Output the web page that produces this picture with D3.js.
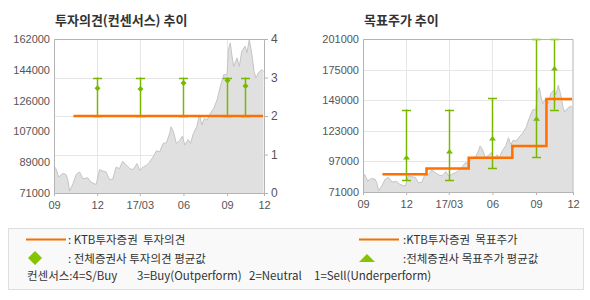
<!DOCTYPE html>
<html>
<head>
<meta charset="utf-8">
<script src="https://cdn.jsdelivr.net/npm/d3@7"></script>
<style>
body { margin: 0; background: #fff; }
text { font-family: "Liberation Sans", Arial, sans-serif; }
.kr { font-family: "Noto Sans CJK KR", sans-serif; }
</style>
</head>
<body>
<div id="chart"></div>
<script>
// ----- DATA -----------------------------------------------------------
const priceDates = [
    "2016-09-01","2016-09-05","2016-09-11","2016-09-19","2016-09-26","2016-09-30",
    "2016-10-04","2016-10-11","2016-10-18","2016-10-25","2016-11-01","2016-11-11",
    "2016-11-18","2016-11-29","2016-12-06","2016-12-13","2016-12-20","2016-12-27",
    "2017-01-03","2017-01-10","2017-01-17","2017-01-24","2017-02-01","2017-02-08",
    "2017-02-15","2017-02-23","2017-03-01","2017-03-08","2017-03-15","2017-03-22",
    "2017-03-29","2017-04-05","2017-04-12","2017-04-19","2017-04-26","2017-05-03",
    "2017-05-06","2017-05-11","2017-05-17","2017-05-24","2017-05-30","2017-06-04",
    "2017-06-11","2017-06-16","2017-06-22","2017-06-29","2017-07-05","2017-07-10",
    "2017-07-15","2017-07-21","2017-07-28","2017-08-04","2017-08-11","2017-08-18",
    "2017-08-25","2017-09-01","2017-09-04","2017-09-08","2017-09-11","2017-09-15",
    "2017-09-22","2017-09-27","2017-10-02","2017-10-09","2017-10-13","2017-10-18",
    "2017-10-23","2017-10-28","2017-11-01","2017-11-06","2017-11-13","2017-11-17"
];
const priceValues = [
    86800, 85400, 80400, 82500, 82000, 79000,
    72100, 76500, 82000, 83400, 79400, 80000,
    77400, 76000, 84800, 84000, 83400, 78900,
    79200, 86300, 85400, 89700, 87400, 85400,
    84800, 88400, 84400, 86300, 87400, 89300,
    92300, 95900, 95300, 100300, 100600, 106200,
    110100, 107200, 100300, 102200, 104600, 99300,
    102600, 100300, 106200, 110100, 117100, 111100,
    115100, 114100, 118100, 121100, 126000, 134000,
    140900, 140900, 155800, 159700, 152800, 145800,
    150800, 145800, 154700, 157700, 153800, 161700,
    153800, 142800, 138900, 141900, 143900, 142800
];

const axisStart = "2016-09-01";
const axisEnd = "2017-11-18";
const tickDates = ["2016-09-01","2016-12-01","2017-03-01","2017-06-01","2017-09-01","2017-11-18"];
const tickLabels = ["09","12","17/03","06","09","12"];

// consensus (all brokers) dates
const consensusDates = ["2016-12-01","2017-03-01","2017-06-01","2017-09-01","2017-10-09"];

// left chart : investment opinion
const opinionMax = [3, 3, 3, 3, 3];
const opinionMin = [2, 2, 2, 2, 2];
const opinionAvg = [2.72, 2.70, 2.86, 2.92, 2.78];
const ktbOpinionDates = ["2016-10-12","2017-11-16"];
const ktbOpinion = [2, 2];
const opinionTicks = [0, 1, 2, 3, 4];
const leftPriceTicks = [71000, 89200, 107400, 125600, 143800, 162000];

// right chart : target price
const targetMax = [141000, 141000, 150500, 201000, 201000];
const targetMin = [81000, 81000, 91400, 100700, 141000];
const targetAvg = [100400, 105500, 116500, 133300, 176000];
const ktbTargetDates = ["2016-10-12","2017-01-13","2017-04-12","2017-07-13","2017-09-23","2017-11-16"];
const ktbTarget = [86000, 91000, 100000, 110000, 150000, 150000];
const rightPriceTicks = [71000, 97000, 123000, 149000, 175000, 201000];

// ----- SETUP ----------------------------------------------------------
const ORANGE = "#ff7000";
const GREEN = "#78b800";
const parse = d3.timeParse("%Y-%m-%d");

const width = 590, height = 300;

const svg = d3.select("#chart").append("svg")
    .attr("width", width)
    .attr("height", height);

const prices = priceDates.map((d, i) => ({ date: parse(d), v: priceValues[i] }));

function drawPanel( opts )
{
    const innerWidth = opts.right - opts.left;
    const innerHeight = opts.bottom - opts.top;

    const g = svg.append("g")
        .attr("transform", "translate(" + opts.left + "," + opts.top + ")");

    const x = d3.scaleTime()
        .domain([parse(axisStart), parse(axisEnd)])
        .range([0, innerWidth]);

    const y = d3.scaleLinear()
        .domain([opts.priceTicks[0], opts.priceTicks[opts.priceTicks.length - 1]])
        .range([innerHeight, 0]);

    // vertical gridlines
    g.selectAll(".vgrid")
        .data(tickDates.slice(1, -1))
        .enter().append("line")
        .attr("x1", d => Math.round(x(parse(d))) + 0.5)
        .attr("x2", d => Math.round(x(parse(d))) + 0.5)
        .attr("y1", 0)
        .attr("y2", innerHeight)
        .attr("stroke", "#e6e6e6");

    // horizontal gridlines
    g.selectAll(".hgrid")
        .data(opts.gridValues)
        .enter().append("line")
        .attr("x1", 0)
        .attr("x2", innerWidth)
        .attr("y1", d => Math.round(opts.gridScale(d, innerHeight)) + 0.5)
        .attr("y2", d => Math.round(opts.gridScale(d, innerHeight)) + 0.5)
        .attr("stroke", "#e6e6e6");

    // price area
    g.append("path")
        .datum(prices)
        .attr("d", d3.area()
            .x(d => x(d.date))
            .y0(innerHeight)
            .y1(d => y(d.v)))
        .attr("fill", "#e0e0e0");

    g.append("path")
        .datum(prices)
        .attr("d", d3.line()
            .x(d => x(d.date))
            .y(d => y(d.v)))
        .attr("fill", "none")
        .attr("stroke", "#c4c4c4")
        .attr("stroke-width", 1);

    const vy = opts.valueScale(innerHeight);

    // consensus range bars
    const bars = consensusDates.map((d, i) => ({
        date: parse(d), max: opts.max[i], min: opts.min[i], avg: opts.avg[i]
    }));

    const bar = g.selectAll(".range")
        .data(bars)
        .enter().append("g");

    bar.append("line")
        .attr("x1", d => Math.round(x(d.date)) + 0.5)
        .attr("x2", d => Math.round(x(d.date)) + 0.5)
        .attr("y1", d => vy(d.max))
        .attr("y2", d => vy(d.min))
        .attr("stroke", GREEN)
        .attr("stroke-width", 1.5);

    ["max", "min"].forEach(k => {
        bar.append("line")
            .attr("x1", d => Math.round(x(d.date)) - 4)
            .attr("x2", d => Math.round(x(d.date)) + 5)
            .attr("y1", d => Math.round(vy(d[k])) + 0.5)
            .attr("y2", d => Math.round(vy(d[k])) + 0.5)
            .attr("stroke", GREEN)
            .attr("stroke-width", 1.5);
    });

    // KTB line
    const ktb = opts.ktbDates.map((d, i) => ({ date: parse(d), v: opts.ktb[i] }));
    g.append("path")
        .datum(ktb)
        .attr("d", d3.line()
            .curve(d3.curveStepAfter)
            .x(d => x(d.date))
            .y(d => vy(d.v)))
        .attr("fill", "none")
        .attr("stroke", ORANGE)
        .attr("stroke-width", 2.5);

    // average markers
    bar.append("path")
        .attr("transform", d => "translate(" + (Math.round(x(d.date)) + 0.5) + "," + vy(d.avg) + ")")
        .attr("d", opts.marker)
        .attr("fill", GREEN);

    // frame
    g.append("path")
        .attr("d", "M0.5," + innerHeight + "V0.5H" + innerWidth + (opts.rightAxis ? "" : "V" + innerHeight))
        .attr("fill", "none")
        .attr("stroke", "#b4b4b4");

    // x axis
    const xAxis = g.append("g")
        .attr("transform", "translate(0," + innerHeight + ")")
        .call(d3.axisBottom(x)
            .tickValues(tickDates.map(parse))
            .tickFormat((d, i) => tickLabels[i])
            .tickSize(3)
            .tickSizeOuter(0));
    xAxis.select(".domain").attr("stroke", "#b4b4b4");
    xAxis.selectAll(".tick line").attr("stroke", "#b4b4b4");
    xAxis.selectAll("text")
        .attr("font-family", "Liberation Sans, Arial, sans-serif")
        .attr("font-size", 11)
        .attr("fill", "#555")
        .attr("dy", "0.95em");

    // left price axis
    const yAxis = g.append("g")
        .call(d3.axisLeft(y)
            .tickValues(opts.priceTicks)
            .tickFormat(d => Math.round(d / 1000) * 1000)
            .tickSize(0)
            .tickPadding(4));
    yAxis.select(".domain").attr("stroke", "#b4b4b4");
    yAxis.selectAll("text")
        .attr("font-family", "Liberation Sans, Arial, sans-serif")
        .attr("font-size", 11)
        .attr("fill", "#555");

    // right opinion axis
    if( opts.rightAxis )
    {
        const r = g.append("g")
            .attr("transform", "translate(" + innerWidth + ",0)")
            .call(d3.axisRight(vy)
                .tickValues(opinionTicks)
                .tickFormat(d3.format("d"))
                .tickSize(4)
                .tickSizeOuter(0)
                .tickPadding(3));
        r.select(".domain").attr("stroke", "#b4b4b4");
        r.selectAll(".tick line").attr("stroke", "#b4b4b4");
        r.selectAll("text")
            .attr("font-family", "Liberation Sans, Arial, sans-serif")
            .attr("font-size", 12)
            .attr("fill", "#555");
    }

    // title
    svg.append("text")
        .attr("class", "kr")
        .attr("x", opts.left + 1)
        .attr("y", 25)
        .attr("font-size", 13)
        .attr("font-weight", "bold")
        .attr("fill", "#333")
        .text(opts.title);
}

const diamond = "M0,-3L3,0L0,3L-3,0Z";
const triangle = "M0,-2.5L3.5,2L-3.5,2Z";

drawPanel({
    left: 54, right: 264, top: 39, bottom: 193,
    title: "투자의견(컨센서스) 추이",
    priceTicks: leftPriceTicks,
    gridValues: [1, 2, 3],
    gridScale: (d, h) => h - d / 4 * h,
    valueScale: h => d3.scaleLinear().domain([0, 4]).range([h, 0]),
    max: opinionMax, min: opinionMin, avg: opinionAvg,
    ktbDates: ktbOpinionDates, ktb: ktbOpinion,
    marker: diamond,
    rightAxis: true
});

drawPanel({
    left: 363, right: 573, top: 39, bottom: 192,
    title: "목표주가 추이",
    priceTicks: rightPriceTicks,
    gridValues: rightPriceTicks.slice(1, -1),
    gridScale: (d, h) => h - (d - 71000) / 130000 * h,
    valueScale: h => d3.scaleLinear().domain([71000, 201000]).range([h, 0]),
    max: targetMax, min: targetMin, avg: targetAvg,
    ktbDates: ktbTargetDates, ktb: ktbTarget,
    marker: triangle,
    rightAxis: false
});

// ----- LEGEND ---------------------------------------------------------
const legend = svg.append("g");

legend.append("rect")
    .attr("x", 8.5).attr("y", 228.5)
    .attr("width", 575).attr("height", 61)
    .attr("fill", "#f9f9f9")
    .attr("stroke", "#dedede");

[26, 359].forEach(x0 => {
    legend.append("line")
        .attr("x1", x0).attr("x2", x0 + 40)
        .attr("y1", 239.5).attr("y2", 239.5)
        .attr("stroke", "#f07000")
        .attr("stroke-width", 2);
});

legend.append("path")
    .attr("d", "M35,251L42,258L35,265L28,258Z")
    .attr("fill", "#84c400");

legend.append("path")
    .attr("d", "M367,254L375,262L359,262Z")
    .attr("fill", "#84c400");

const legendTexts = [
    { x: 68, y: 244, t: ": KTB투자증권  투자의견" },
    { x: 68, y: 263, t: ": 전체증권사 투자의견 평균값" },
    { x: 403, y: 244, t: ":KTB투자증권  목표주가" },
    { x: 403, y: 263, t: ":전체증권사 목표주가 평균값" },
    { x: 27, y: 280, t: "컨센서스:4=S/Buy" },
    { x: 137, y: 280, t: "3=Buy(Outperform)" },
    { x: 249, y: 280, t: "2=Neutral" },
    { x: 314, y: 280, t: "1=Sell(Underperform)" }
];

legend.selectAll(".lt")
    .data(legendTexts)
    .enter().append("text")
    .attr("class", "kr")
    .attr("x", d => d.x)
    .attr("y", d => d.y)
    .attr("font-size", 11.5)
    .attr("fill", "#333")
    .attr("xml:space", "preserve")
    .style("white-space", "pre")
    .text(d => d.t);
</script>
</body>
</html>
